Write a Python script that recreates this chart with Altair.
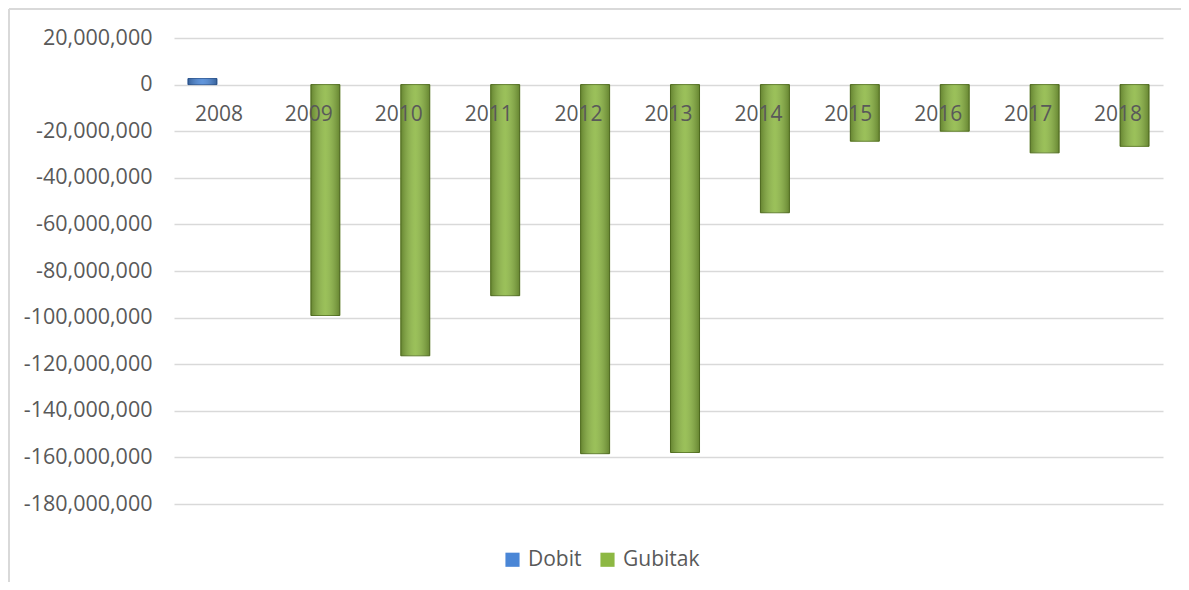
import altair as alt
import pandas as pd

years = ["2008", "2009", "2010", "2011", "2012", "2013", "2014", "2015", "2016", "2017", "2018"]
dobit = [2600000, None, None, None, None, None, None, None, None, None, None]
gubitak = [None, -99100000, -116400000, -90600000, -158400000, -157900000,
           -55000000, -24300000, -20000000, -29300000, -26500000]
series_names = ["Dobit", "Gubitak"]
series_colors = ["#4A86D6", "#8DB843"]
series_edges = ["#2F5D9E", "#5A7A22"]
y_ticks = [20000000, 0, -20000000, -40000000, -60000000, -80000000, -100000000,
           -120000000, -140000000, -160000000, -180000000]

rows = []
for i, yr in enumerate(years):
    if dobit[i] is not None:
        rows.append({"year": yr, "series": "Dobit", "value": dobit[i]})
    if gubitak[i] is not None:
        rows.append({"year": yr, "series": "Gubitak", "value": gubitak[i]})
df = pd.DataFrame(rows)
labels_df = pd.DataFrame({"year": years})

FONT = "Open Sans"
TXT = "#595959"
GRID = "#D9D9D9"

x_enc = alt.X("year:N", sort=years, axis=None,
              scale=alt.Scale(paddingInner=0.31, paddingOuter=0.155))
xoff_enc = alt.XOffset("series:N", sort=series_names,
                       scale=alt.Scale(paddingInner=0.121, paddingOuter=0))
y_scale = alt.Scale(domain=[-180000000, 20000000], nice=False, zero=False)

bars = alt.Chart(df).mark_bar(strokeWidth=1).encode(
    x=x_enc,
    xOffset=xoff_enc,
    y=alt.Y("value:Q", scale=y_scale, title=None,
            axis=alt.Axis(values=y_ticks, grid=True, gridColor=GRID, gridWidth=1.6,
                          domain=False, ticks=False, labelPadding=22,
                          labelFont=FONT, labelFontSize=21.5, labelColor=TXT,
                          labelExpr="(datum.value < 0 ? '-' : '') + format(abs(datum.value), ',')")),
    fill=alt.Fill("series:N", sort=series_names,
                  scale=alt.Scale(domain=series_names, range=series_colors),
                  legend=alt.Legend(title=None, orient="none", direction="horizontal",
                                    legendX=328, legendY=511,
                                    symbolType="square", symbolSize=200,
                                    symbolStrokeWidth=0,
                                    labelFont=FONT, labelFontSize=21, labelColor=TXT,
                                    labelOffset=5, columnPadding=15, labelLimit=300)),
    stroke=alt.Stroke("series:N", sort=series_names,
                      scale=alt.Scale(domain=series_names, range=series_edges),
                      legend=None),
)

shade = alt.Chart(df).mark_bar(
    color=alt.Gradient(gradient="linear", x1=0, x2=1, y1=0, y2=0,
                       stops=[alt.GradientStop(color="rgba(0,0,0,0.28)", offset=0),
                              alt.GradientStop(color="rgba(255,255,255,0.12)", offset=0.5),
                              alt.GradientStop(color="rgba(0,0,0,0.28)", offset=1)])
).encode(
    x=x_enc,
    xOffset=xoff_enc,
    y=alt.Y("value:Q", scale=y_scale),
)

year_text = alt.Chart(labels_df).mark_text(
    font=FONT, fontSize=21, color=TXT, baseline="middle", dy=30
).encode(
    x=x_enc,
    y=alt.datum(0),
    text="year:N",
)

frame_df = pd.DataFrame({"k": [0]})
frame_top = alt.Chart(frame_df).mark_rule(color=GRID, strokeWidth=2).encode(
    x=alt.value(-165), x2=alt.value(1100), y=alt.value(-29))
frame_left = alt.Chart(frame_df).mark_rule(color=GRID, strokeWidth=2).encode(
    x=alt.value(-165), y=alt.value(-29), y2=alt.value(600))

chart = alt.layer(frame_top, frame_left, bars, shade, year_text).properties(
    width=989, height=466,
    background="white",
    autosize=alt.AutoSizeParams(type="none"),
    padding={"left": 166, "top": 30, "right": 18, "bottom": 78},
).configure_view(strokeWidth=0, stroke="transparent")

chart.save("out.html", embed_options={"renderer": "svg", "actions": False})
